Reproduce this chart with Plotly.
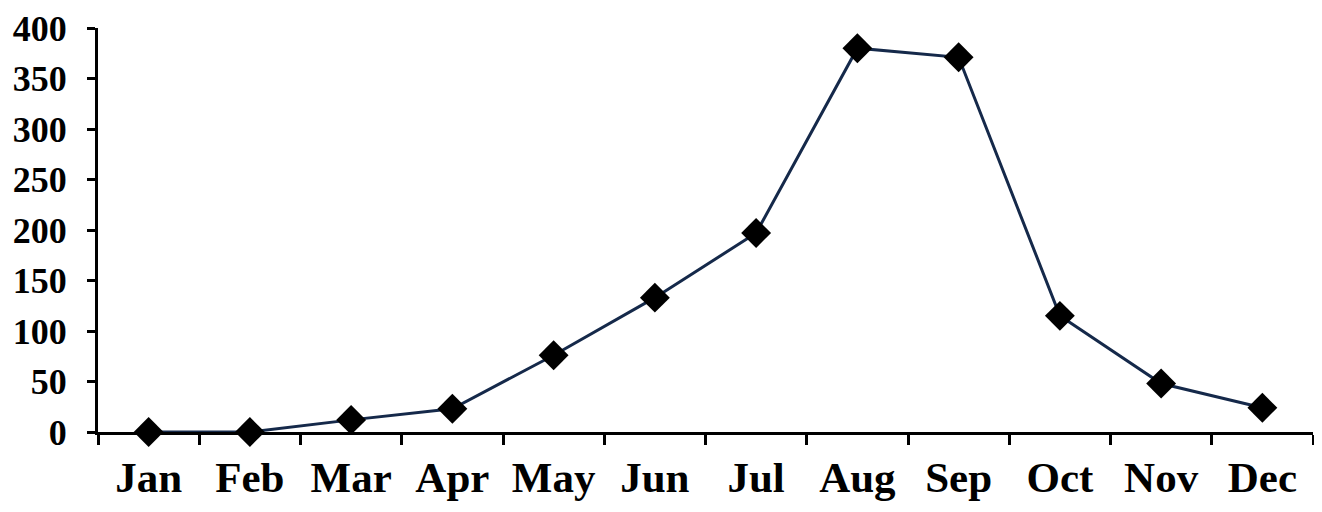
import plotly.graph_objects as go

months = ["Jan", "Feb", "Mar", "Apr", "May", "Jun",
          "Jul", "Aug", "Sep", "Oct", "Nov", "Dec"]
counts = [0, 0, 12, 23, 76, 133, 197, 380, 371, 115, 48, 24]
y_ticks = [0, 50, 100, 150, 200, 250, 300, 350, 400]

fig = go.Figure()
fig.add_trace(go.Scatter(
    x=months, y=counts, mode="lines+markers",
    line=dict(color="#15294a", width=3),
    marker=dict(symbol="diamond", size=23, color="black"),
    cliponaxis=False, showlegend=False))

# page body has an 8px margin, so the figure sits 8px right/down
fig.update_layout(
    width=1322, height=512,
    margin=dict(l=90, r=17, t=20, b=88),
    paper_bgcolor="white", plot_bgcolor="white",
    font=dict(family="Liberation Serif", size=36, color="black", weight="bold"),
)
fig.update_xaxes(
    type="category", tickson="boundaries", automargin=False,
    showline=True, linecolor="black", linewidth=3,
    ticks="outside", ticklen=10, tickwidth=3, tickcolor="black",
    tickfont=dict(size=43), ticklabeloverflow="allow",
    showgrid=False, zeroline=False, ticklabelstandoff=5,
    range=[-0.5, 11.5])
fig.update_yaxes(
    range=[0, 400], tickvals=y_ticks, automargin=False,
    showline=True, linecolor="black", linewidth=3,
    ticks="outside", ticklen=8, tickwidth=3, tickcolor="black",
    ticklabeloverflow="allow",
    showgrid=False, zeroline=False, ticklabelstandoff=13)

fig.write_html("out.html")
